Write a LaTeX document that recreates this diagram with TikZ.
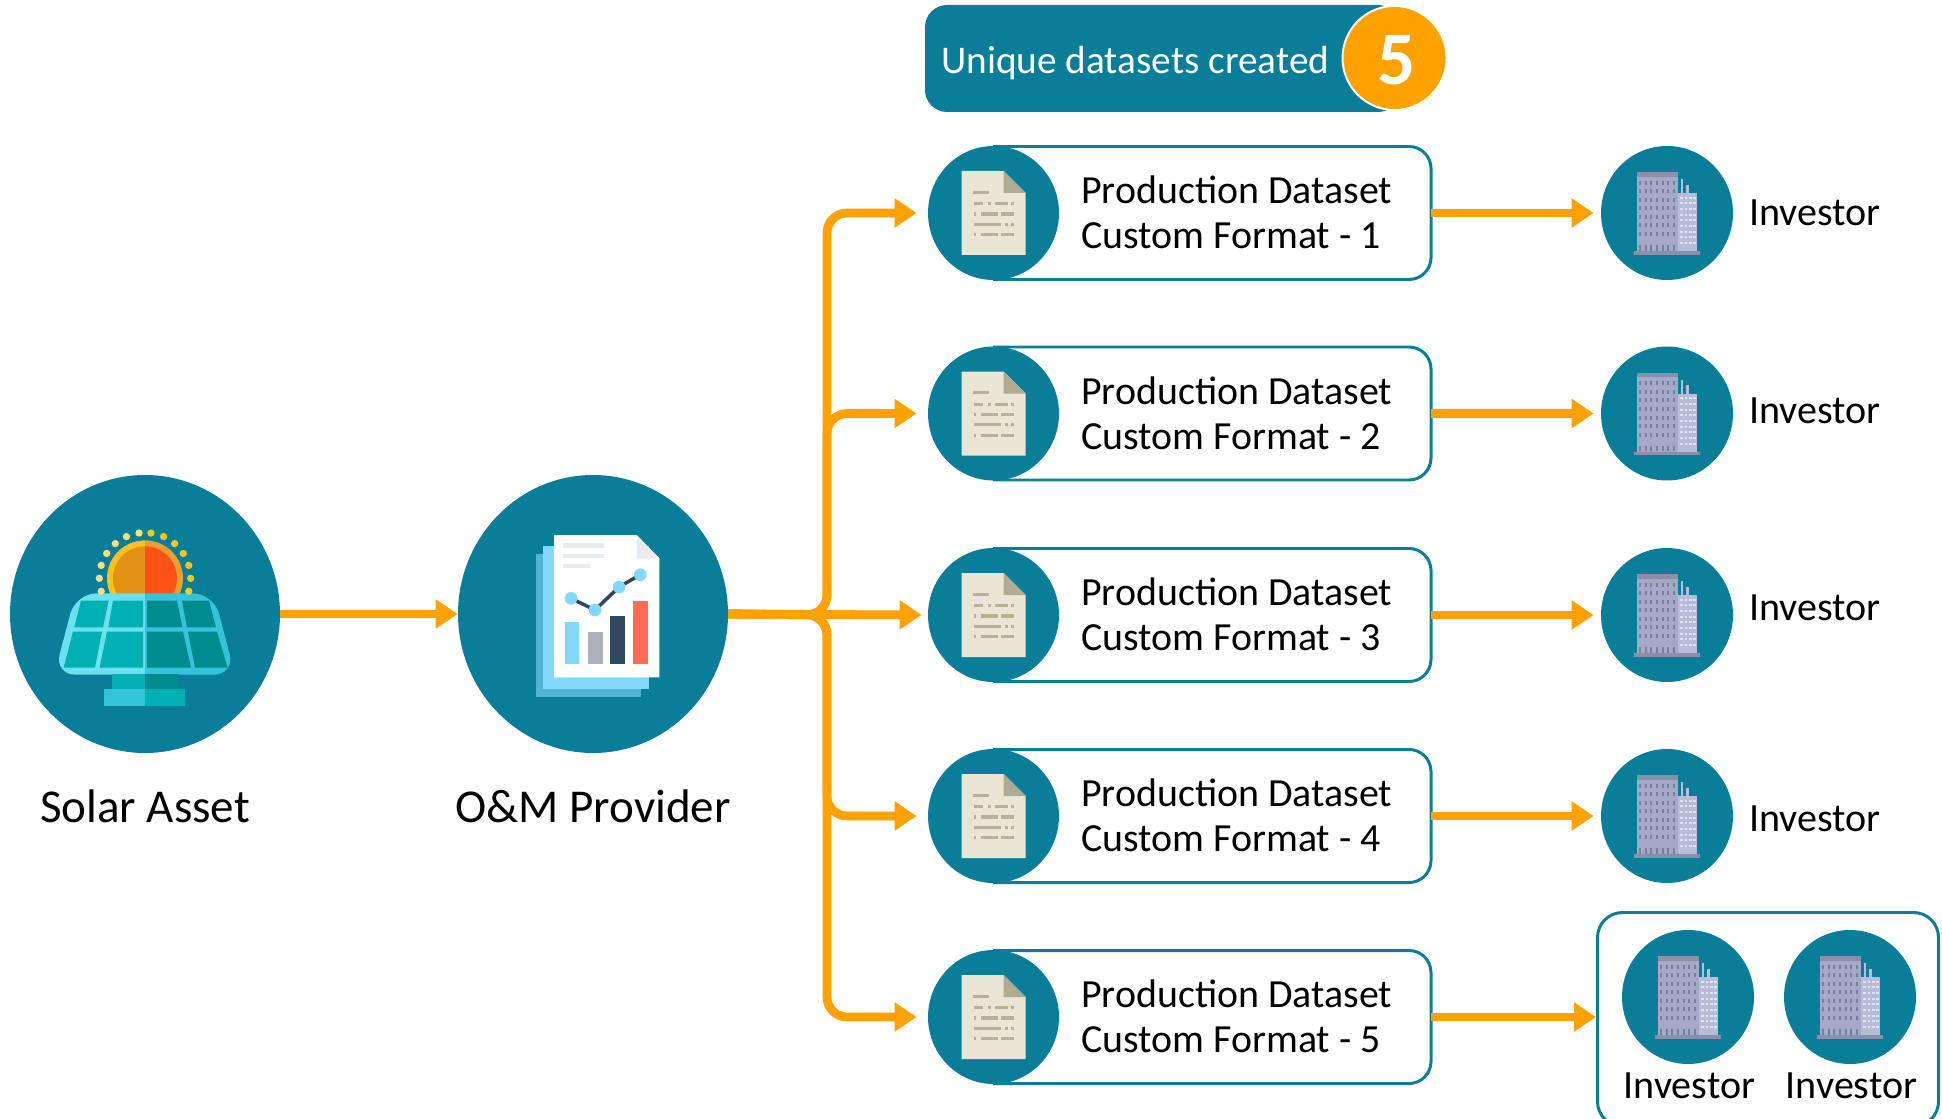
\documentclass[tikz,border=0pt]{standalone}
\usepackage{fontspec}
\setmainfont{Carlito}
\usetikzlibrary{arrows.meta,shapes.geometric}
\definecolor{teal}{HTML}{0A7E99}
\definecolor{flowc}{HTML}{FFA200}
\definecolor{paper}{HTML}{EAE6D5}
\definecolor{foldc}{HTML}{B0AB94}
\definecolor{inkc}{HTML}{B5B29B}
\definecolor{cellL}{HTML}{00B0B2}
\definecolor{cellR}{HTML}{008C8F}
\definecolor{panL}{HTML}{6CE0EE}
\definecolor{panR}{HTML}{35C3DA}
\definecolor{skyc}{HTML}{82D8FF}
\definecolor{navyc}{HTML}{2F4A60}
\definecolor{twr}{HTML}{A3A9C6}
\definecolor{twrd}{HTML}{7B7F9C}
\definecolor{twrt}{HTML}{8C8FA8}
\definecolor{anx}{HTML}{B7BDD8}
\definecolor{anxw}{HTML}{DFE2EF}
\definecolor{sunLo}{HTML}{FFC01D}
\definecolor{sunLi}{HTML}{E09213}
\definecolor{sunRo}{HTML}{E8A030}
\definecolor{sunRi}{HTML}{FF5316}
\definecolor{dotL}{HTML}{FFDE80}
\definecolor{dotR}{HTML}{FFC61A}
\definecolor{rptgrey}{HTML}{ABB0B9}
\definecolor{rptline}{HTML}{E8EBEF}
\definecolor{rptred}{HTML}{FF6C55}
\tikzset{
  x=0.02cm,y=-0.02cm,
  flow/.style={draw=flowc,line width=5pt,-{Triangle[length=0.44cm,width=0.56cm]}},
  disc/.style={ellipse,fill=teal,inner sep=0pt,minimum width=#1},
  bigdisc/.style={disc=270*0.02cm,minimum height=278*0.02cm},
  smalldisc/.style={disc=132*0.02cm,minimum height=134*0.02cm},
  dsbox/.style={rectangle,inner sep=0pt,outer sep=0pt,minimum width=438*0.02cm,minimum height=133*0.02cm,anchor=east},
  dsedge/.style={draw=teal,fill=white,line width=1.7pt,rounded corners=0.44cm},
  dstext/.style={font=\fontsize{22.7}{25.6}\selectfont,align=left,anchor=west,inner sep=0pt,text=black},
  lab/.style={font=\fontsize{26.8}{30}\selectfont,inner sep=0pt,text=black},
  invlab/.style={font=\fontsize{22.8}{25}\selectfont,inner sep=0pt,text=black},
  docicon/.pic={
    \fill[paper] (-32,-42) -- (10,-42) -- (32,-20) -- (32,42) -- (-32,42) -- cycle;
    \fill[foldc] (10,-42) -- (32,-20) -- (10,-20) -- cycle;
    \foreach \ya/\xa/\xb in {-20.7/-20.5/-5,
      -9.3/-20/-10.4,-9.3/-6/-3,-9.3/1/14,-9.3/17.5/20.5,
      1/-20/-17.5,1/-13/4,1/7.5/20,
      11.3/-20/7,11.3/11/14,11.3/17.5/20.5,
      21.7/-20/-17.5,21.7/-13/4,21.7/7.5/20}
      \draw[inkc,line width=1.8pt] (\xa,\ya) -- (\xb,\ya);
  },
  buildicon/.pic={
    \begin{scope}[scale=0.33333,shift={(-263,-247)}]
      \fill[anx] (304,145) rectangle (312,190);
      \fill[anx] (321,162) rectangle (329,190);
      \fill[twr] (172,124) rectangle (296,362);
      \fill[twrt] (172,124) rectangle (296,138);
      \foreach \cx in {182,199,216,233,250,267,284}{
        \foreach \cy in {150,176,201,227,253,278,304}
          \fill[twrd] (\cx-3,\cy) rectangle (\cx+3,\cy+12);
        \fill[twrd] (\cx-3,343) rectangle (\cx+3,360);
      }
      \fill[anx] (296,188) rectangle (354,362);
      \foreach \cy in {198,215,232,249,266,283,300,317,334}
        \foreach \cx in {303,316,329,342}
          \fill[anxw] (\cx,\cy) rectangle (\cx+8,\cy+6);
      \fill[twrt] (163,362) rectangle (362,372);
    \end{scope}
  },
  solaricon/.pic={
    \begin{scope}[scale=0.33333,shift={(-434,-462)}]
      \begin{scope}
        \clip (100,100) rectangle (434,800);
        \fill[sunLo] (434,355) circle (114);
        \fill[sunLi] (434,355) circle (96);
        \fill[panL] (434,400) [rounded corners=12] -- (640,400) -- (704,644) -- (162,644) -- (226,400) -- cycle;
      \end{scope}
      \begin{scope}
        \clip (434,100) rectangle (800,800);
        \fill[sunRo] (434,355) circle (114);
        \fill[sunRi] (434,355) circle (96);
        \fill[panR] (434,400) [rounded corners=12] -- (640,400) -- (704,644) -- (162,644) -- (226,400) -- cycle;
      \end{scope}
      \foreach \a in {-16.5,0,16.5,33,49.5,66,82.5}
        \fill[dotR] ({434+137*cos(\a)},{355-137*sin(\a)}) circle (11);
      \foreach \a in {97.5,114,130.5,147,163.5,180,196.5}
        \fill[dotL] ({434+137*cos(\a)},{355-137*sin(\a)}) circle (11);
      \fill[cellL] (242,422) -- (325,422) -- (308,502) -- (222,502) -- cycle;
      \fill[cellL] (338,422) -- (428,422) -- (428,502) -- (324,502) -- cycle;
      \fill[cellR] (440,422) -- (530,422) -- (546,502) -- (440,502) -- cycle;
      \fill[cellR] (545,422) -- (626,422) -- (647,502) -- (560,502) -- cycle;
      \fill[cellL] (218,515) -- (305,515) -- (284,623) -- (190,623) -- cycle;
      \fill[cellL] (320,515) -- (428,515) -- (428,623) -- (298,623) -- cycle;
      \fill[cellR] (440,515) -- (548,515) -- (572,623) -- (440,623) -- cycle;
      \fill[cellR] (563,515) -- (650,515) -- (682,623) -- (584,623) -- cycle;
      \fill[cellL] (335,642) rectangle (434,686);
      \fill[cellR] (434,642) rectangle (535,686);
      \fill[panR] (312,686) rectangle (434,738);
      \fill[cellL] (434,686) rectangle (555,738);
    \end{scope}
  },
  reporticon/.pic={
    \begin{scope}[scale=0.33333,shift={(-429,-462)}]
      \fill[skyc!60!teal] (257,282) rectangle (573,710);
      \fill[skyc] (279,257) rectangle (597,686);
      \fill[white] (312,225) -- (560,225) -- (628,295) -- (628,652) -- (312,652) -- cycle;
      \fill[rptline] (560,225) -- (628,295) -- (560,295) -- cycle;
      \fill[rptline] (340,250) rectangle (462,264);
      \fill[rptline] (340,281) rectangle (462,295);
      \fill[rptline] (340,311) rectangle (420,325);
      \fill[skyc] (345,487) rectangle (388,612);
      \fill[rptgrey] (414,517) rectangle (458,612);
      \fill[navyc] (481,467) rectangle (526,612);
      \fill[rptred] (549,422) rectangle (595,612);
      \draw[navyc,line width=2pt] (363,415) -- (435,450) -- (507,381) -- (571,344);
      \foreach \p in {(363,415),(435,450),(507,381),(571,344)}
        \fill[skyc] \p circle (19);
    \end{scope}
  },
}
\begin{document}
\begin{tikzpicture}
\useasboundingbox (0,0) rectangle (1942,1118);
% banner
\fill[teal,rounded corners=0.44cm] (925,5) rectangle (1400,112);
\node[circle,fill=flowc,draw=white,line width=1.1pt,minimum size=104*0.02cm,inner sep=0pt] (count) at (1394.5,58) {};
\node[font=\fontsize{43}{43}\bfseries\selectfont,text=white,inner sep=0pt] (countnum) at (1396.5,60) {5};
\node[font=\fontsize{22.35}{28}\selectfont,text=white,anchor=west,inner sep=0pt] (bannertext) at (941,63.5) {Unique datasets created};
% sources
\node[bigdisc] (solar) at (145,614) {};
\node[bigdisc] (om) at (593,614) {};
\pic at (solar.center) {solaricon};
\pic at (om.center) {reporticon};
\node[lab] (solarlab) at (145,806) {Solar Asset};
\node[lab] (omlab) at (593,806) {O\&M Provider};
% dataset rows
\foreach \n/\yy in {1/213,2/413.5,3/615,4/816,5/1017}{
  \node[dsbox] (d\n) at (1431,\yy) {};
  \path[dsedge] (d\n.north west) -- (d\n.north east) -- (d\n.south east) -- (d\n.south west);
  \node[disc=131*0.02cm,minimum height=134*0.02cm] (dc\n) at (993.5,\yy) {};
  \pic at (dc\n.center) {docicon};
  \node[dstext] (dt\n) at (1081,\yy-0.5) {Production Dataset\\Custom Format - \n};
}
% investors
\foreach \n/\yy/\ly in {1/213/213,2/413.5/411,3/615/608,4/816/819}{
  \node[smalldisc] (i\n) at (1667,\yy) {};
  \pic at (i\n.center) {buildicon};
  \node[invlab,anchor=west] (il\n) at (1749,\ly) {Investor};
}
% grouped investors
\begin{scope}
  \clip (0,0) rectangle (1942,1118);
  \node[rectangle,draw=teal,fill=white,line width=1.7pt,rounded corners=0.5cm,minimum width=341*0.02cm,minimum height=214*0.02cm,inner sep=0pt,anchor=north west] (grp) at (1596,911) {};
\end{scope}
\foreach \n/\xx in {a/1688,b/1850}{
  \node[smalldisc] (g\n) at (\xx,997) {};
  \pic at (g\n.center) {buildicon};
  \node[invlab] (gl\n) at (\xx+1.5,1086) {Investor};
}
% connectors
\coordinate (jn) at (827,615);
\draw[flow] (solar.east) -- (om.west);
\foreach \n in {1,2,4,5}
  \draw[flow,rounded corners=0.4cm,shorten >=11*0.02cm] (om.east) -- (jn) |- (dc\n.west);
\draw[flow,shorten >=6*0.02cm] (om.east) -- (dc3.west);
\foreach \n in {1,2,3,4}
  \draw[flow,shorten >=7*0.02cm] (d\n.east) -- (d\n.east -| i\n.west);
\draw[flow] (d5.east) -- (d5.east -| grp.west);
\end{tikzpicture}
\end{document}
